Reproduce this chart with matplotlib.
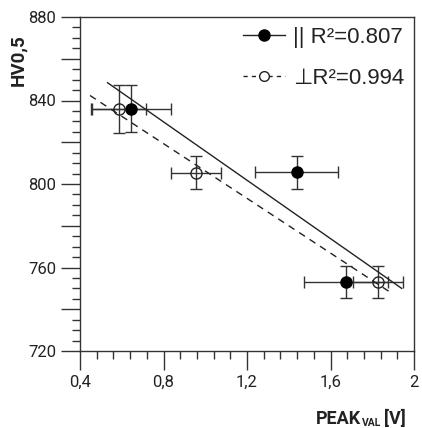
import numpy as np
import matplotlib
matplotlib.use("Agg")
import matplotlib.pyplot as plt
from matplotlib.lines import Line2D
from matplotlib.ticker import MultipleLocator, FuncFormatter

# ---- data ----
par_x = [0.644, 1.438, 1.674]
par_y = [836.0, 805.6, 752.9]
par_xerr = [0.19, 0.20, 0.20]
par_yerr = [11.3, 7.8, 7.6]
par_fit_range = [0.532, 1.941]

perp_x = [0.587, 0.956, 1.829]
perp_y = [835.9, 805.4, 753.0]
perp_xerr = [0.13, 0.12, 0.12]
perp_yerr = [11.3, 7.8, 7.6]
perp_fit_range = [0.448, 1.890]

legend_labels = ["|| R²=0.807", "⊥R²=0.994"]
x_ticks = [0.4, 0.8, 1.2, 1.6, 2.0]
x_ticklabels = ["0,4", "0,8", "1,2", "1,6", "2"]
y_ticks = [720, 760, 800, 840, 880]

plt.rcParams["font.family"] = ["Roboto", "DejaVu Sans"]

ink = "#222222"

fig = plt.figure(figsize=(4.22, 4.28), dpi=100)
ax = fig.add_axes([80 / 422, 77 / 428, 334 / 422, 334 / 428])

eb = dict(fmt="none", ecolor="#333333", elinewidth=1.0, capsize=4, capthick=1.0, zorder=2)
ax.errorbar(par_x, par_y, xerr=par_xerr, yerr=par_yerr, **eb)
ax.errorbar(perp_x, perp_y, xerr=perp_xerr, yerr=perp_yerr, **eb)

# linear trend lines
k1, b1 = np.polyfit(par_x, par_y, 1)
xs1 = np.array(par_fit_range)
ax.plot(xs1, k1 * xs1 + b1, "-", color=ink, lw=1.0, zorder=3)
k2, b2 = np.polyfit(perp_x, perp_y, 1)
xs2 = np.array(perp_fit_range)
ax.plot(xs2, k2 * xs2 + b2, color=ink, lw=1.0, ls=(0, (5, 4)), zorder=3)

ax.plot(par_x, par_y, "o", ms=8, mfc="black", mec="black", zorder=4)
ax.plot(perp_x, perp_y, "o", ms=8, mfc="none", mec=ink, mew=1.0, zorder=4)

ax.set_xlim(0.4, 2.0)
ax.set_ylim(720, 880)

ax.set_xticks(x_ticks, x_ticklabels)
ax.xaxis.set_minor_locator(MultipleLocator(0.08))
ax.yaxis.set_major_locator(MultipleLocator(20))
ax.yaxis.set_major_formatter(
    FuncFormatter(lambda v, p: f"{v:.0f}" if round(v) in y_ticks else ""))
ax.yaxis.set_minor_locator(MultipleLocator(5))

ax.tick_params(which="major", direction="out", length=14, width=1.0,
               color="#333333", labelsize=12, labelcolor=ink, pad=3)
ax.tick_params(which="minor", direction="out", length=6, width=1.0, color="#333333")
for s in ax.spines.values():
    s.set_linewidth(1.0)
    s.set_color("#333333")

ax.set_ylabel("HV0,5", fontsize=13.5, fontweight="bold", color=ink)
ax.yaxis.set_label_coords(-0.159, 0.87)

# x label: PEAK with small "VAL" subscript, then [V]
t1 = fig.text(316 / 422, 4 / 428, "PEAK", fontsize=13, fontweight="bold",
              color=ink, va="baseline")
t2 = fig.add_artist(plt.Annotation("VAL", xy=(1, 0), xycoords=t1, xytext=(0.3, 0),
                                   textcoords="offset points", fontsize=7.5,
                                   fontweight="bold", color=ink, va="bottom"))
fig.add_artist(plt.Annotation("[V]", xy=(1, 0), xycoords=t2, xytext=(2.5, 0),
                              textcoords="offset points", fontsize=13,
                              fontweight="bold", color=ink, va="bottom"))

handles = [
    Line2D([], [], color=ink, lw=1.0, marker="o", ms=8, mfc="black", mec="black"),
    Line2D([], [], color=ink, lw=1.0, ls=(0, (3, 3)), marker="o", ms=7,
           mfc="white", mec=ink),
]
leg = ax.legend(handles, legend_labels, loc="upper right", frameon=False,
                handlelength=1.9, handletextpad=0.35, labelspacing=0.9,
                borderaxespad=0.05, borderpad=0.4,
                prop={"family": ["Liberation Sans", "DejaVu Sans"], "size": 16})
for t in leg.get_texts():
    t.set_color(ink)

fig.savefig("out.png", dpi=100)
